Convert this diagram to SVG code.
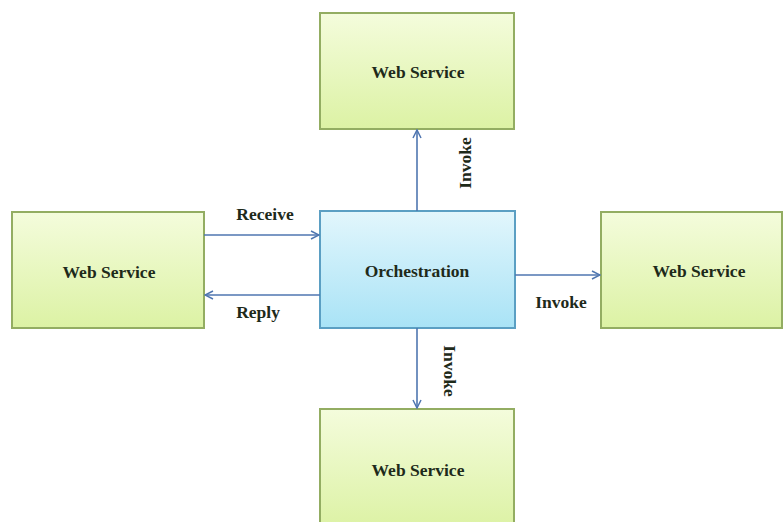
<svg xmlns="http://www.w3.org/2000/svg" width="784" height="522" viewBox="0 0 784 522">
<defs>
<linearGradient id="gg" x1="0" y1="0" x2="0" y2="1"><stop offset="0" stop-color="#f4fcdc"/><stop offset="1" stop-color="#dcf2a4"/></linearGradient>
<linearGradient id="bg" x1="0" y1="0" x2="0" y2="1"><stop offset="0" stop-color="#e2f6fc"/><stop offset="1" stop-color="#a9e3f6"/></linearGradient>
<marker id="ah" viewBox="0 0 10 10" refX="9" refY="5" markerWidth="10" markerHeight="10" markerUnits="userSpaceOnUse" orient="auto"><path d="M1,1 L9,5 L1,9" fill="none" stroke="#4f76b0" stroke-width="1.5"/></marker>
</defs>
<style>
.g{fill:url(#gg);stroke:#93ad62;stroke-width:2}
.b{fill:url(#bg);stroke:#5b9fc3;stroke-width:2}
.t{font-family:"Liberation Serif","Times New Roman",serif;font-weight:bold;font-size:17.5px;fill:#1e2a1a;text-anchor:middle;dominant-baseline:central}
.c{stroke:#4f76b0;stroke-width:1.6;fill:none;marker-end:url(#ah)}
</style>
<rect width="784" height="522" fill="#ffffff"/>
<g id="ws-top"><rect class="g" x="320" y="13" width="194" height="116"/><text class="t" x="418" y="72">Web Service</text></g>
<g id="ws-left"><rect class="g" x="12" y="212" width="192" height="116"/><text class="t" x="109" y="272">Web Service</text></g>
<g id="orchestration"><rect class="b" x="320" y="211" width="195" height="117"/><text class="t" x="417" y="271">Orchestration</text></g>
<g id="ws-right"><rect class="g" x="601" y="212" width="181" height="116"/><text class="t" x="699" y="271">Web Service</text></g>
<g id="ws-bottom"><rect class="g" x="320" y="409" width="194" height="120"/><text class="t" x="418" y="470">Web Service</text></g>
<g id="connectors">
<line class="c" x1="417" y1="211" x2="417" y2="130"/>
<line class="c" x1="204" y1="235" x2="319" y2="235" stroke="#7c9fd0"/>
<line class="c" x1="320" y1="295" x2="205" y2="295" stroke-width="2.2" stroke="#6f8db8"/>
<line class="c" x1="515" y1="275" x2="600" y2="275" stroke="#7c9fd0"/>
<line class="c" x1="417" y1="328" x2="417" y2="408"/>
<text class="t" x="265" y="214">Receive</text>
<text class="t" x="258" y="312">Reply</text>
<text class="t" x="561" y="302">Invoke</text>
<text class="t" transform="translate(465,163) rotate(-90)">Invoke</text>
<text class="t" transform="translate(450,371) rotate(90)">Invoke</text>
</g>
</svg>
